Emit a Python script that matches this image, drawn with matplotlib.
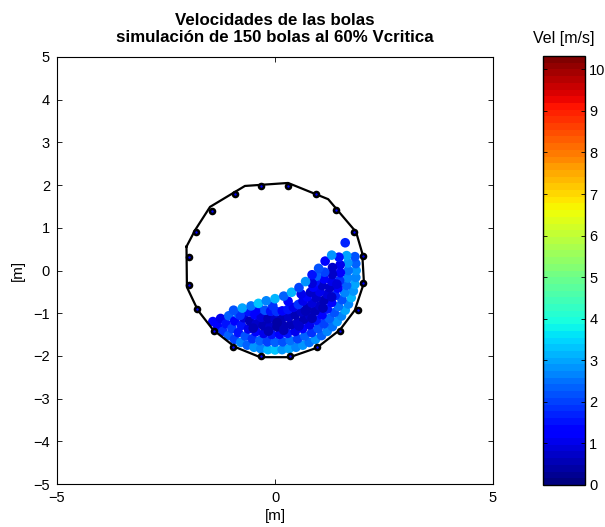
import matplotlib
matplotlib.use("Agg")
import matplotlib.pyplot as plt
import numpy as np
from matplotlib.colors import ListedColormap

plt.rcParams['font.family'] = ['Liberation Sans', 'DejaVu Sans']

title_text = "Velocidades de las bolas\nsimulación de 150 bolas al 60% Vcritica"
xlabel_text = "[m]"
ylabel_text = "[m]"
cbar_title = "Vel [m/s]"
xticks = [-5, 0, 5]
yticks = [-5, -4, -3, -2, -1, 0, 1, 2, 3, 4, 5]
cticks = [0, 1, 2, 3, 4, 5, 6, 7, 8, 9, 10]
vmin, vmax = 0.0, 10.32

# mill liner outline
liner_x = [-2.03, -1.83, -1.49, -0.69, 0.30, 1.22, 1.86, 2.00, 2.04, 1.83, 1.49,
           0.96, 0.34, -0.34, -0.92, -1.42, -1.77, -2.02, -2.03]
liner_y = [0.56, 0.95, 1.49, 1.98, 2.05, 1.67, 0.90, 0.41, -0.29, -0.93, -1.39,
           -1.81, -2.03, -2.03, -1.79, -1.39, -0.93, -0.39, 0.56]

# liner bolts / lifter points
bolt_x = [-0.32, 0.29, 0.93, 1.41, 1.81, 2.01, 2.01, 1.91, 1.49, 0.96,
          0.34, -0.31, -0.96, -1.39, -1.78, -1.97, -1.97, -1.81, -1.45, -0.92]
bolt_y = [1.99, 1.99, 1.78, 1.42, 0.91, 0.34, -0.30, -0.92, -1.42, -1.80,
          -2.00, -2.00, -1.78, -1.42, -0.89, -0.34, 0.31, 0.89, 1.40, 1.78]

# ball positions [m] and speeds [m/s]
ball_x = [
    # outer layer
    -1.425, -1.315, -1.196, -1.067, -0.930, -0.786, -0.636, -0.481, -0.324, -0.162,
    0.000, 0.162, 0.324, 0.481, 0.636, 0.786, 0.930, 1.067, 1.196, 1.315,
    1.425, 1.524, 1.611, 1.685, 1.748, 1.797, 1.832, 1.853, 1.860, 1.853, 1.832,
    # second layer
    -1.248, -1.124, -0.988, -0.840, -0.683, -0.519, -0.349, -0.176, 0.000, 0.176,
    0.349, 0.519, 0.683, 0.840, 0.988, 1.124, 1.248, 1.359, 1.455, 1.535,
    1.598, 1.643, 1.671, 1.680, 1.671, 1.643,
    # third layer
    -1.061, -0.924, -0.773, -0.610, -0.439, -0.260, -0.078, 0.105, 0.286, 0.464,
    0.634, 0.795, 0.944, 1.079, 1.198, 1.299, 1.381, 1.442, 1.482, 1.499,
    1.494, 1.467,
    # fourth layer
    -0.849, -0.719, -0.579, -0.430, -0.274, -0.115, 0.046, 0.206, 0.364, 0.516,
    0.660, 0.794, 0.917, 1.026, 1.119, 1.196, 1.255, 1.296, 1.317, 1.318,
    # fifth layer
    -0.604, -0.464, -0.314, -0.159, 0.000, 0.159, 0.314, 0.464, 0.604, 0.733,
    0.847, 0.945, 1.025, 1.084, 1.123, 1.139,
    # sixth layer
    -0.360, -0.232, -0.100, 0.034, 0.167, 0.297, 0.421, 0.537, 0.642, 0.735,
    0.814, 0.877, 0.923, 0.951,
    # below free surface
    -0.80, -0.45, -0.05, 0.30, 0.60, 0.85,
    # free surface
    -0.95, -0.75, -0.55, -0.38, -0.20, 0.00, 0.20, 0.38, 0.55, 0.70,
    0.85, 1.00, 1.15, 1.30,
    # interstitial
    -0.50, -0.15, 0.20, 0.55, 0.85, 1.10, 1.30, 1.42, 0.05, 0.70,
    # flying ball
    1.61,
]
ball_y = [
    -1.196, -1.315, -1.425, -1.524, -1.611, -1.685, -1.748, -1.797, -1.832, -1.853,
    -1.860, -1.853, -1.832, -1.797, -1.748, -1.685, -1.611, -1.524, -1.425, -1.315,
    -1.196, -1.067, -0.930, -0.786, -0.636, -0.481, -0.324, -0.162, 0.000, 0.162, 0.324,
    -1.124, -1.248, -1.359, -1.455, -1.535, -1.598, -1.643, -1.671, -1.680, -1.671,
    -1.643, -1.598, -1.535, -1.455, -1.359, -1.248, -1.124, -0.988, -0.840, -0.683,
    -0.519, -0.349, -0.176, 0.000, 0.176, 0.349,
    -1.061, -1.182, -1.286, -1.370, -1.434, -1.477, -1.498, -1.496, -1.472, -1.427,
    -1.359, -1.272, -1.166, -1.042, -0.903, -0.750, -0.586, -0.413, -0.235, -0.052,
    0.131, 0.312,
    -1.011, -1.107, -1.186, -1.248, -1.291, -1.315, -1.319, -1.304, -1.269, -1.215,
    -1.143, -1.054, -0.950, -0.831, -0.700, -0.558, -0.408, -0.252, -0.092, 0.069,
    -0.967, -1.041, -1.096, -1.129, -1.140, -1.129, -1.096, -1.041, -0.967, -0.873,
    -0.763, -0.637, -0.500, -0.352, -0.198, -0.040,
    -0.890, -0.931, -0.955, -0.959, -0.945, -0.913, -0.863, -0.796, -0.713, -0.617,
    -0.509, -0.390, -0.265, -0.134,
    -1.05, -0.95, -0.83, -0.72, -0.55, -0.30,
    -0.93, -0.88, -0.83, -0.77, -0.71, -0.66, -0.60, -0.51, -0.40, -0.26,
    -0.10, 0.05, 0.22, 0.36,
    -1.35, -1.42, -1.40, -1.30, -1.12, -0.88, -0.62, -0.32, -1.22, -0.95,
    0.65,
]
ball_v = [
    1.3, 1.4, 1.8, 2.3, 2.0, 2.7, 2.4, 2.9, 2.6, 3.1,
    3.3, 2.8, 3.0, 2.6, 2.9, 2.5, 2.8, 2.4, 2.7, 2.5,
    2.9, 2.6, 3.0, 2.7, 3.1, 2.8, 3.0, 2.6, 2.9, 2.4, 2.2,
    1.1, 1.6, 2.0, 1.5, 2.2, 1.9, 2.3, 2.0, 2.4, 2.1,
    2.5, 2.0, 2.3, 1.9, 2.2, 2.0, 2.4, 2.1, 2.5, 2.2,
    2.6, 2.3, 2.7, 2.5, 2.8, 3.0,
    2.4, 1.2, 1.5, 1.0, 1.4, 1.1, 1.6, 1.2, 1.5, 1.0,
    1.4, 1.1, 1.6, 1.2, 1.5, 1.3, 1.7, 1.4, 1.8, 1.2,
    1.0, 1.6,
    2.6, 0.9, 0.6, 0.8, 0.5, 0.7, 0.4, 0.6, 0.5, 0.8,
    0.6, 0.7, 0.5, 0.8, 0.6, 0.9, 0.7, 1.0, 0.8, 0.8,
    1.5, 1.2, 0.9, 0.6, 0.8, 0.5, 0.7, 0.5, 0.8, 0.6,
    0.9, 0.7, 1.0, 0.8, 1.2, 2.0,
    1.9, 2.1, 1.5, 1.9, 1.3, 1.6, 1.1, 1.8, 1.0, 1.4,
    0.8, 1.2, 1.6, 2.3,
    1.8, 1.2, 1.8, 1.3, 1.1, 0.9,
    2.2, 3.0, 2.5, 3.3, 2.7, 3.1, 2.4, 3.2, 2.0, 2.8,
    1.6, 2.2, 1.4, 2.9,
    0.5, 0.6, 0.5, 0.7, 0.6, 0.5, 0.7, 0.9, 0.4, 0.5,
    1.7,
]

cmap = ListedColormap(plt.get_cmap('jet')(np.linspace(0, 1, 64)))

fig = plt.figure(figsize=(6.05, 5.27), dpi=100)
ax = fig.add_axes([57/605, 43/527, 436/605, 427/527])
cax = fig.add_axes([543/605, 42/527, 42/605, 429/527])

ax.scatter(ball_x, ball_y, c=ball_v, cmap=cmap, vmin=vmin, vmax=vmax,
           s=48, linewidths=0, zorder=2)
ax.plot(liner_x, liner_y, color='black', lw=1.6, zorder=3)
ax.scatter(bolt_x, bolt_y, s=30, color='black', linewidths=0, zorder=4)
ax.scatter(bolt_x, bolt_y, s=3, color='#0000ff', linewidths=0, zorder=5)

ax.set_xlim(-5, 5)
ax.set_ylim(-5, 5)
ax.set_xticks(xticks)
ax.set_yticks(yticks)
ax.tick_params(direction='in', top=True, right=True, length=3.5, width=0.6,
               labelsize=10.5, pad=5)
for sp in ax.spines.values():
    sp.set_linewidth(0.8)
ax.set_title(title_text, fontsize=12.2, fontweight='bold', pad=11, linespacing=1.15)
ax.set_xlabel(xlabel_text, fontsize=11, labelpad=3)
ax.set_ylabel(ylabel_text, fontsize=11, labelpad=6)

sm = plt.cm.ScalarMappable(cmap=cmap, norm=plt.Normalize(vmin, vmax))
cb = fig.colorbar(sm, cax=cax)
cb.set_ticks(cticks)
cax.tick_params(direction='in', left=True, right=True, length=3, width=0.6,
                labelsize=10.5, pad=3)
cb.outline.set_linewidth(1.0)
fig.text(564/605, 1 - 38/527, cbar_title, ha='center', va='center', fontsize=11.5)

fig.savefig("out.png", dpi=100)
